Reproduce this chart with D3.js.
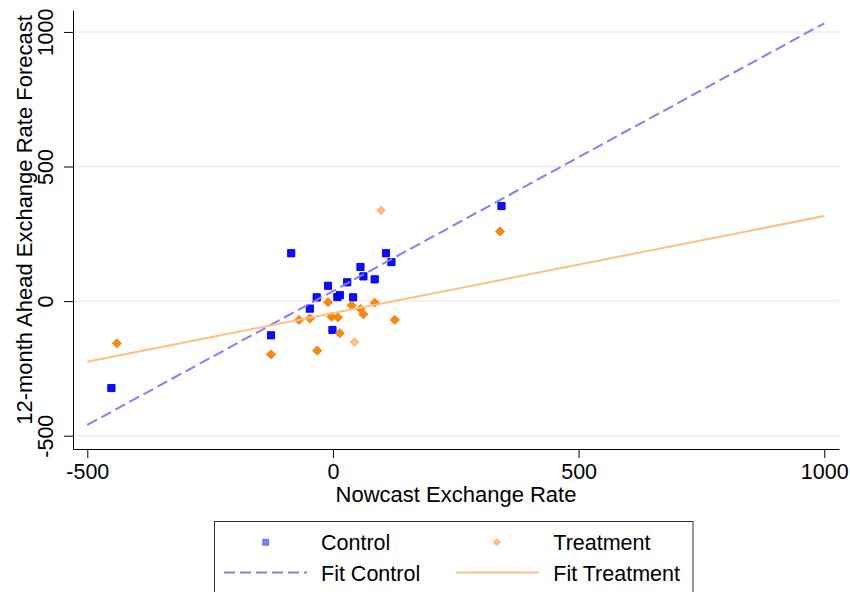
<!DOCTYPE html>
<html>
<head>
<meta charset="utf-8">
<script src="https://cdn.jsdelivr.net/npm/d3@7"></script>
<style>
  body { margin: 0; background: #fff; }
  text { font-family: "Liberation Sans", Arial, sans-serif; fill: #000; }
</style>
</head>
<body>
<script>
// control group: nowcast vs 12-month forecast, n = overlapping responses
const controlX = [-451, -126, -85, -47, -33, -10, -1, 9, 14, 29, 41, 56, 62, 85, 108, 119, 343];
const controlY = [-323, -127, 178, -28, 14, 57, -107, 15, 22, 70, 14, 127, 92, 81, 178, 145, 353];
const controlN = [4, 4, 4, 4, 4, 4, 4, 4, 4, 4, 4, 4, 4, 4, 4, 4, 4];

const treatmentX = [-440, -126, -69, -47, -32, -10, -3, 10, 14, 38, 44, 56, 62, 85, 126, 98, 340];
const treatmentY = [-157, -198, -70, -64, -184, -4, -58, -60, -119, -16, -152, -29, -49, -6, -70, 337, 259];
const treatmentN = [4, 4, 4, 4, 4, 4, 4, 4, 4, 4, 1, 4, 4, 4, 4, 1, 4];

// linear fits, read at the ends
const fitX = [-500, 1000];
const fitControl = [-460, 1032];
const fitTreatment = [-225, 316];

const xTicks = [-500, 0, 500, 1000];
const yTicks = [-500, 0, 500, 1000];

const width = 850, height = 592;
const blue = "#0000ff", orange = "#ff7f00";

const x = d3.scaleLinear().domain([-528.5, 1030]).range([73.3, 839]);
const y = d3.scaleLinear().domain([-550.5, 1081.5]).range([449.3, 10]);

const svg = d3.select("body").append("svg")
    .attr("width", width)
    .attr("height", height);

// grid
svg.append("g")
  .selectAll("line")
  .data(yTicks)
  .join("line")
    .attr("x1", x.range()[0]).attr("x2", x.range()[1])
    .attr("y1", d => y(d)).attr("y2", d => y(d))
    .attr("stroke", "#e8eff2")
    .attr("stroke-width", 1.5);

// axes (plain hyphen for negatives, like the original)
const fmt = d => String(d);

let yAxis = g => g
    .attr("transform", "translate(73,0)")
    .call(d3.axisLeft(y).tickValues(yTicks).tickSize(9).tickSizeOuter(0).tickFormat(fmt))
    .call(g => g.selectAll(".tick text")
        .attr("x", 0).attr("y", -20).attr("dy", 0)
        .attr("text-anchor", "middle")
        .attr("transform", "rotate(-90)"));

let xAxis = g => g
    .attr("transform", "translate(0,449)")
    .call(d3.axisBottom(x).tickValues(xTicks).tickSize(9).tickSizeOuter(0).tickFormat(fmt))
    .call(g => g.selectAll(".tick text").attr("y", 30).attr("dy", 0));

svg.append("g").call(yAxis);
svg.append("g").call(xAxis);
svg.selectAll(".tick text")
    .attr("font-size", "21.5px")
    .attr("font-family", "'Liberation Sans', Arial, sans-serif");
svg.selectAll(".domain, .tick line").attr("stroke", "#000");

svg.append("text")
    .attr("x", 456).attr("y", 502)
    .attr("text-anchor", "middle")
    .attr("font-size", "22px")
    .text("Nowcast Exchange Rate");

svg.append("text")
    .attr("transform", "translate(31.5,220) rotate(-90)")
    .attr("text-anchor", "middle")
    .attr("font-size", "22px")
    .text("12-month Ahead Exchange Rate Forecast");

// markers (drawn once per overlapping response, each at 50% opacity)
const square = d3.symbol(d3.symbolSquare, 49)();
const diamond = d3.symbol(d3.symbolSquare, 38)();

const control = controlX.map((v, i) => ({x: v, y: controlY[i], n: controlN[i]}));
const treatment = treatmentX.map((v, i) => ({x: v, y: treatmentY[i], n: treatmentN[i]}));

function drawMarkers(data, shape, color, rot) {
  svg.append("g")
    .selectAll("g")
    .data(data)
    .join("g")
      .attr("transform", d => `translate(${x(d.x)},${y(d.y)}) rotate(${rot})`)
    .selectAll("path")
    .data(d => d3.range(d.n))
    .join("path")
      .attr("d", shape)
      .attr("fill", color)
      .attr("fill-opacity", 0.5)
      .attr("stroke", color)
      .attr("stroke-opacity", 0.5)
      .attr("stroke-width", 0.8);
}
drawMarkers(control, square, blue, 0);
drawMarkers(treatment, diamond, orange, 45);

// fit lines
const line = d3.line().x(d => x(d[0])).y(d => y(d[1]));
svg.append("path")
    .attr("d", line(fitX.map((v, i) => [v, fitControl[i]])))
    .attr("fill", "none")
    .attr("stroke", "#8080ff")
    .attr("stroke-width", 2)
    .attr("stroke-dasharray", "11,5");
svg.append("path")
    .attr("d", line(fitX.map((v, i) => [v, fitTreatment[i]])))
    .attr("fill", "none")
    .attr("stroke", "#ffbf80")
    .attr("stroke-width", 2);

// legend
const lg = svg.append("g");
lg.append("rect")
    .attr("x", 214.5).attr("y", 521.5)
    .attr("width", 478.5).attr("height", 72)
    .attr("fill", "#fff")
    .attr("stroke", "#333")
    .attr("stroke-width", 1);

lg.append("path")
    .attr("d", d3.symbol(d3.symbolSquare, 36)())
    .attr("transform", "translate(265.7,542.3)")
    .attr("fill", blue).attr("fill-opacity", 0.5)
    .attr("stroke", blue).attr("stroke-opacity", 0.5).attr("stroke-width", 0.8);
lg.append("path")
    .attr("d", d3.symbol(d3.symbolSquare, 25)())
    .attr("transform", "translate(496.7,542.3) rotate(45)")
    .attr("fill", orange).attr("fill-opacity", 0.5)
    .attr("stroke", orange).attr("stroke-opacity", 0.5).attr("stroke-width", 0.8);

lg.append("line")
    .attr("x1", 224).attr("x2", 307).attr("y1", 572.5).attr("y2", 572.5)
    .attr("stroke", "#8080ff").attr("stroke-width", 2)
    .attr("stroke-dasharray", "11,5");
lg.append("line")
    .attr("x1", 456).attr("x2", 538.5).attr("y1", 572.5).attr("y2", 572.5)
    .attr("stroke", "#ffbf80").attr("stroke-width", 2);

const legendText = [
  {t: "Control", x: 321, y: 550},
  {t: "Treatment", x: 553.3, y: 550},
  {t: "Fit Control", x: 321, y: 581},
  {t: "Fit Treatment", x: 553.3, y: 581}
];
lg.selectAll("text.lab")
  .data(legendText)
  .join("text")
    .attr("class", "lab")
    .attr("x", d => d.x).attr("y", d => d.y)
    .attr("font-size", "21.5px")
    .text(d => d.t);
</script>
</body>
</html>
